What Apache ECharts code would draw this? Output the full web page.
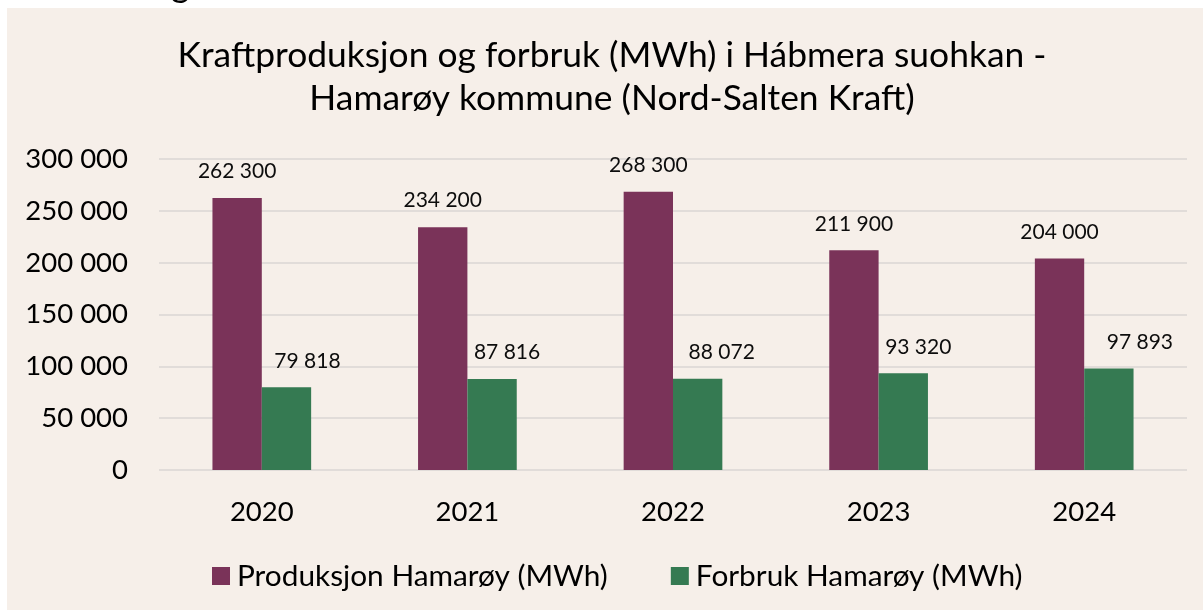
<!DOCTYPE html>
<html>
<head>
<meta charset="utf-8">
<script src="https://cdn.jsdelivr.net/npm/echarts@6/dist/echarts.min.js"></script>
<style>
html,body{margin:0;padding:0;background:#ffffff;}
#chart{width:1203px;height:610px;}
</style>
</head>
<body>
<div id="chart"></div>
<script>
const categories = ['2020', '2021', '2022', '2023', '2024'];
const produksjon = [262300, 234200, 268300, 211900, 204000];
const forbruk = [79818, 87816, 88072, 93320, 97893];
const seriesNames = ['Produksjon Hamarøy (MWh)', 'Forbruk Hamarøy (MWh)'];
const titleText = 'Kraftproduksjon og forbruk (MWh) i Hábmera suohkan -\nHamarøy kommune (Nord-Salten Kraft)';

const FONT = 'Lato';
const fmt = v => String(v).replace(/\B(?=(\d{3})+(?!\d))/g, ' ');
const greenLabelShift = [21, 15, 24, 15, 31];

const chart = echarts.init(document.getElementById('chart'), null, {renderer: 'canvas'});
chart.setOption({
  backgroundColor: '#ffffff',
  animation: false,
  textStyle: {fontFamily: FONT},
  graphic: [
    {type: 'text', z: -200, x: 171, y: 3, style: {text: 'g', font: '36px ' + FONT, fill: '#000', verticalAlign: 'bottom'}},
    {type: 'rect', z: -100, shape: {x: 7, y: 8, width: 1196, height: 602}, style: {fill: '#F6EFE9'}}
  ],
  title: {
    text: titleText,
    left: 612,
    top: 34,
    padding: 0,
    textAlign: 'center',
    textStyle: {fontFamily: FONT, fontSize: 35.4, fontWeight: 'normal', color: '#000', lineHeight: 43}
  },
  legend: {
    left: 212,
    top: 561,
    padding: 0,
    itemWidth: 18,
    itemHeight: 18,
    itemGap: 63,
    icon: 'rect',
    textStyle: {fontFamily: FONT, fontSize: 29.8, color: '#000', padding: [0, 0, 0, 2]},
    data: seriesNames
  },
  grid: {left: 159, right: 16, top: 159, bottom: 140, containLabel: false},
  xAxis: {
    type: 'category',
    data: categories,
    axisLine: {show: false},
    axisTick: {show: false},
    axisLabel: {fontFamily: FONT, fontSize: 27.5, color: '#000', margin: 28}
  },
  yAxis: {
    type: 'value',
    min: 0,
    max: 300000,
    interval: 50000,
    axisLine: {show: false},
    axisTick: {show: false},
    axisLabel: {fontFamily: FONT, fontSize: 27.5, color: '#000', margin: 31, formatter: fmt},
    splitLine: {lineStyle: {color: '#DAD6D3', width: 1.5}}
  },
  series: [
    {
      name: seriesNames[0],
      type: 'bar',
      data: produksjon,
      barGap: '0%',
      barCategoryGap: '52%',
      itemStyle: {color: '#7A3359'},
      label: {show: true, position: 'top', distance: 16, fontFamily: FONT, fontSize: 21, color: '#0d0d0d', formatter: p => fmt(p.value)}
    },
    {
      name: seriesNames[1],
      type: 'bar',
      data: forbruk.map((v, i) => ({value: v, label: {offset: [greenLabelShift[i], 0]}})),
      barGap: '0%',
      barCategoryGap: '52%',
      itemStyle: {color: '#357A52'},
      label: {show: true, position: 'top', distance: 16, fontFamily: FONT, fontSize: 21, color: '#0d0d0d', formatter: p => fmt(p.value)}
    }
  ]
});
</script>
</body>
</html>
